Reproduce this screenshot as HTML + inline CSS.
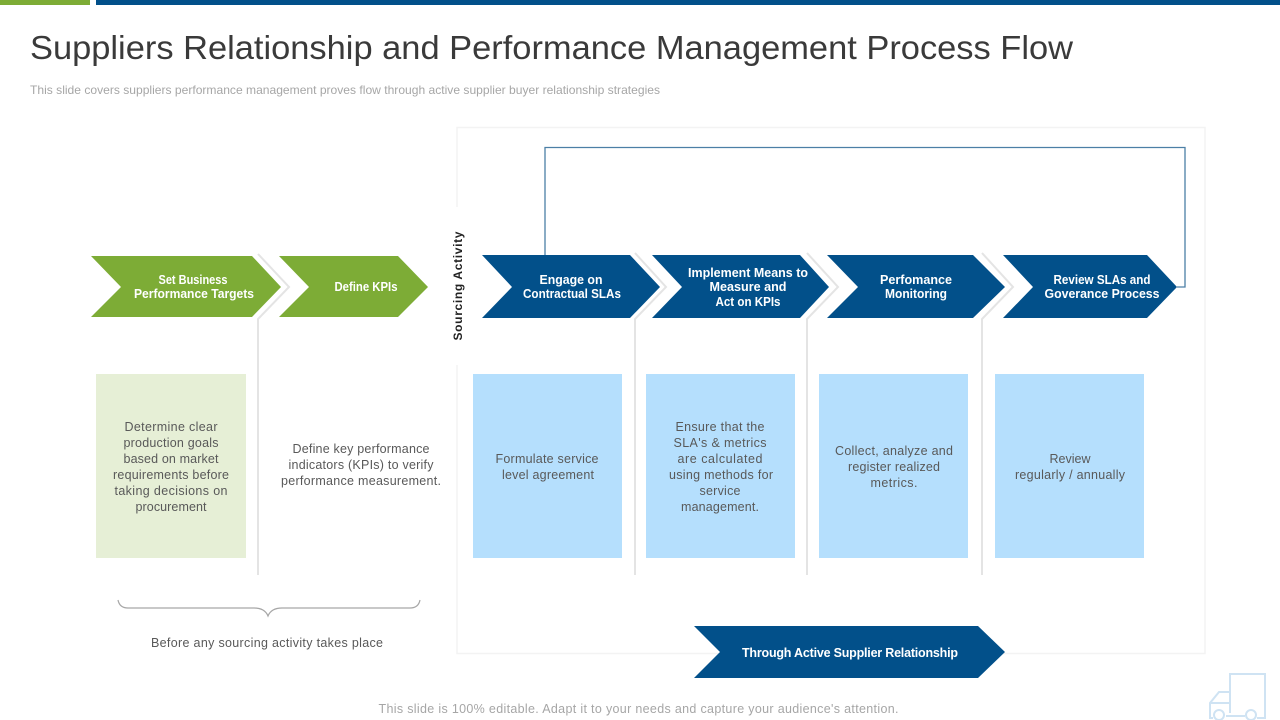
<!DOCTYPE html>
<html><head><meta charset="utf-8"><title>Suppliers Relationship and Performance Management Process Flow</title>
<style>
html,body{margin:0;padding:0;background:#fff;width:1280px;height:720px;overflow:hidden}
svg{display:block}
text{font-family:"Liberation Sans",sans-serif}
.b{font-size:12.5px;fill:#fff;font-weight:bold;text-anchor:middle}
.d{font-size:12.5px;fill:#595959;text-anchor:middle}
</style></head><body>
<svg width="1280" height="720" viewBox="0 0 1280 720" xmlns="http://www.w3.org/2000/svg">
<rect x="0" y="0" width="90" height="5" fill="#7dac36"/>
<rect x="96" y="0" width="1184" height="5" fill="#02508a"/>
<text x="30" y="59" font-size="33" fill="#3a3a3a" textLength="1043" lengthAdjust="spacingAndGlyphs">Suppliers Relationship and Performance Management Process Flow</text>
<text x="30" y="94" font-size="12" fill="#a6a6a6" textLength="630" lengthAdjust="spacingAndGlyphs">This slide covers suppliers performance management proves flow through active supplier buyer relationship strategies</text>

<path d="M457 207V127.500H1205V653.500H457V365" fill="none" stroke="#f3f3f3" stroke-width="1.500"/>
<path d="M545 255V147.500H1185V287H1177" fill="none" stroke="#4c7fa6" stroke-width="1.300"/>

<g fill="none" stroke="#e4e4e4" stroke-width="2">
<path d="M258 254L289 287L258 319V575"/>
<path d="M635 253L666 287L635 319V575"/>
<path d="M807 253L838 287L807 319V575"/>
<path d="M982 253L1013 287L982 319V575"/>
</g>

<g fill="#7dac36">
<polygon points="91,256 252,256 281,287 252,317 91,317 121,287"/>
<polygon points="279,256 398,256 428,287 398,317 279,317 309,287"/>
</g>
<g fill="#02508a">
<polygon points="482,255 630,255 660,287 630,318 482,318 512,287"/>
<polygon points="652,255 800,255 829,287 800,318 652,318 682,287"/>
<polygon points="827,255 973,255 1005,287 973,318 827,318 858,287"/>
<polygon points="1003,255 1147,255 1177,287 1147,318 1003,318 1033,287"/>
<polygon points="694,626 978,626 1005,652 978,678 694,678 720,652"/>
</g>

<text class="b" x="193" y="284" textLength="69" lengthAdjust="spacingAndGlyphs">Set Business</text>
<text class="b" x="194" y="298" textLength="120" lengthAdjust="spacingAndGlyphs">Performance Targets</text>
<text class="b" x="366" y="291" textLength="63" lengthAdjust="spacingAndGlyphs">Define KPIs</text>
<text class="b" x="571" y="284" textLength="63" lengthAdjust="spacingAndGlyphs">Engage on</text>
<text class="b" x="572" y="298" textLength="98" lengthAdjust="spacingAndGlyphs">Contractual SLAs</text>
<text class="b" x="748" y="277" textLength="120" lengthAdjust="spacingAndGlyphs">Implement Means to</text>
<text class="b" x="748" y="291" textLength="77" lengthAdjust="spacingAndGlyphs">Measure and</text>
<text class="b" x="748" y="306" textLength="65" lengthAdjust="spacingAndGlyphs">Act on KPIs</text>
<text class="b" x="916" y="284" textLength="72" lengthAdjust="spacingAndGlyphs">Perfomance</text>
<text class="b" x="916" y="298" textLength="62" lengthAdjust="spacingAndGlyphs">Monitoring</text>
<text class="b" x="1102" y="284" textLength="97" lengthAdjust="spacingAndGlyphs">Review SLAs and</text>
<text class="b" x="1102" y="298" textLength="115" lengthAdjust="spacingAndGlyphs">Goverance Process</text>
<text class="b" x="850" y="657" textLength="216" lengthAdjust="spacing">Through Active Supplier Relationship</text>

<text transform="translate(462,286) rotate(-90)" font-size="12" font-weight="bold" fill="#222" text-anchor="middle" textLength="109" lengthAdjust="spacing">Sourcing Activity</text>

<rect x="96" y="374" width="150" height="184" fill="#e6efd6"/>
<rect x="473" y="374" width="149" height="184" fill="#b5dffd"/>
<rect x="646" y="374" width="149" height="184" fill="#b5dffd"/>
<rect x="819" y="374" width="149" height="184" fill="#b5dffd"/>
<rect x="995" y="374" width="149" height="184" fill="#b5dffd"/>

<text class="d" x="171" y="431" textLength="93" lengthAdjust="spacing">Determine clear</text>
<text class="d" x="171" y="447" textLength="95" lengthAdjust="spacing">production goals</text>
<text class="d" x="171" y="463" textLength="95" lengthAdjust="spacing">based on market</text>
<text class="d" x="171" y="479" textLength="116" lengthAdjust="spacing">requirements before</text>
<text class="d" x="171" y="495" textLength="113" lengthAdjust="spacing">taking decisions on</text>
<text class="d" x="171" y="511" textLength="71" lengthAdjust="spacing">procurement</text>

<text class="d" x="361" y="453" textLength="137" lengthAdjust="spacing">Define key performance</text>
<text class="d" x="361" y="469" textLength="145" lengthAdjust="spacing">indicators (KPIs) to verify</text>
<text class="d" x="361" y="485" textLength="160" lengthAdjust="spacing">performance measurement.</text>

<text class="d" x="547" y="463" textLength="103" lengthAdjust="spacing">Formulate service</text>
<text class="d" x="548" y="479" textLength="92" lengthAdjust="spacing">level agreement</text>

<text class="d" x="720" y="431" textLength="89" lengthAdjust="spacing">Ensure that the</text>
<text class="d" x="720" y="447" textLength="93" lengthAdjust="spacing">SLA's &amp; metrics</text>
<text class="d" x="720" y="463" textLength="85" lengthAdjust="spacing">are calculated</text>
<text class="d" x="721" y="479" textLength="104" lengthAdjust="spacing">using methods for</text>
<text class="d" x="720" y="495" textLength="41" lengthAdjust="spacing">service</text>
<text class="d" x="720" y="511" textLength="78" lengthAdjust="spacing">management.</text>

<text class="d" x="894" y="455" textLength="118" lengthAdjust="spacing">Collect, analyze and</text>
<text class="d" x="894" y="471" textLength="92" lengthAdjust="spacing">register realized</text>
<text class="d" x="894" y="487" textLength="47" lengthAdjust="spacing">metrics.</text>

<text class="d" x="1070" y="463" textLength="41" lengthAdjust="spacing">Review</text>
<text class="d" x="1070" y="479" textLength="110" lengthAdjust="spacing">regularly / annually</text>

<path d="M118 600C119 605 122 608 128 608H254C262 608 266 611 268 616C270 611 274 608 282 608H410C416 608 419 605 420 600" fill="none" stroke="#a6a6a6" stroke-width="1.200"/>
<text class="d" x="267" y="647" textLength="232" lengthAdjust="spacing">Before any sourcing activity takes place</text>

<text x="638.500" y="713" font-size="12.500" fill="#a6a6a6" text-anchor="middle" textLength="520" lengthAdjust="spacing">This slide is 100% editable. Adapt it to your needs and capture your audience's attention.</text>

<g fill="none" stroke="#cfe3f3" stroke-width="2">
<path d="M1230 710V674H1265V718H1257"/>
<path d="M1230 692H1219L1210 703V718H1213"/>
<path d="M1210 703H1230V713"/>
<path d="M1226 716H1245"/>
<circle cx="1219" cy="715" r="5" fill="#fff"/>
<circle cx="1251" cy="715" r="5" fill="#fff"/>
</g>
</svg>
</body></html>
